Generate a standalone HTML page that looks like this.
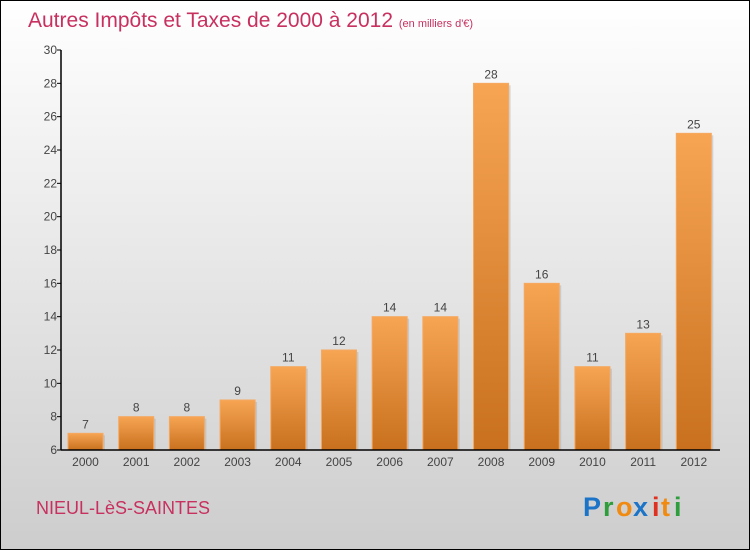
<!DOCTYPE html>
<html><head><meta charset="utf-8"><style>
body{margin:0}
#c{position:relative;width:748px;height:548px;border:1px solid #000;background:linear-gradient(#ffffff,#cdcdcd);font-family:"Liberation Sans",sans-serif;overflow:hidden}
</style></head><body>
<div id="c">
<svg width="748" height="548" id="svg" style="position:absolute;left:-1px;top:-1px;overflow:visible">
<defs>
<linearGradient id="bg" x1="0" y1="0" x2="0" y2="1"><stop offset="0" stop-color="#f7a553"/><stop offset="1" stop-color="#c8701e"/></linearGradient>
</defs>
<text x="28" y="27" font-size="21" fill="#c8305f">Autres Impôts et Taxes de 2000 à 2012 <tspan font-size="11">(en milliers d'€)</tspan></text>
<text x="36" y="514" font-size="18" fill="#c8305f">NIEUL-LèS-SAINTES</text>
<g font-size="27" font-weight="bold">
<text x="583" y="516" fill="#1b74c8">P</text><text x="603" y="516" fill="#2e9e3c">r</text><text x="616" y="516" fill="#f08a10">o</text><text x="633" y="516" fill="#1b74c8">x</text><text x="652" y="516" fill="#e03020">i</text><text x="661" y="516" fill="#f08a10">t</text><text x="674" y="516" fill="#2e9e3c">i</text>
</g>
<g id="plot"></g>
</svg>
</div>
<script>
const years=["2000","2001","2002","2003","2004","2005","2006","2007","2008","2009","2010","2011","2012"];
const values=[7,8,8,9,11,12,14,14,28,16,11,13,25];
const yTicks=[6,8,10,12,14,16,18,20,22,24,26,28,30];
const NS="http://www.w3.org/2000/svg";
const g=document.getElementById('plot');
const x0=61,x1=720,yTop=50,yBot=450,yMin=6,yMax=30;
const band=(x1-x0)/years.length;
const y=v=>yBot-(v-yMin)/(yMax-yMin)*(yBot-yTop);
function mk(t,a){const e=document.createElementNS(NS,t);for(const k in a)e.setAttribute(k,a[k]);g.appendChild(e);return e;}
yTicks.forEach(t=>{
 const l=mk('line',{x1:x0-4,x2:x0,y1:y(t),y2:y(t),stroke:'#000'});
 
 
 const tx=mk('text',{x:x0-4,y:y(t)+4,'font-size':12,'text-anchor':'end',fill:'#444'});
 tx.textContent=t;
 
 
});
years.forEach((yr,i)=>{
 const bx=x0+i*band+7,bw=35,v=values[i];
 const s=mk('rect',{x:bx+2,y:y(v)+2,width:bw,height:yBot-y(v)-2,fill:'#b0b0b0',opacity:0.5});
 
 
 const r=mk('rect',{x:bx,y:y(v),width:bw,height:yBot-y(v),fill:'url(#bg)',stroke:'#f5a860','stroke-width':1});
 
 
 const vl=mk('text',{x:bx+bw/2,y:y(v)-5,'font-size':12,'text-anchor':'middle',fill:'#444'});
 vl.textContent=v;
 
 
 const xl=mk('text',{x:bx+bw/2,y:466,'font-size':12,'text-anchor':'middle',fill:'#444'});
 xl.textContent=yr;
 
 
});
const ya=mk('line',{x1:x0,x2:x0,y1:yTop,y2:yBot,stroke:'#000','stroke-width':1.5});


const xa=mk('line',{x1:x0,x2:x1,y1:yBot,y2:yBot,stroke:'#000','stroke-width':1.5});


</script>
</body></html>
